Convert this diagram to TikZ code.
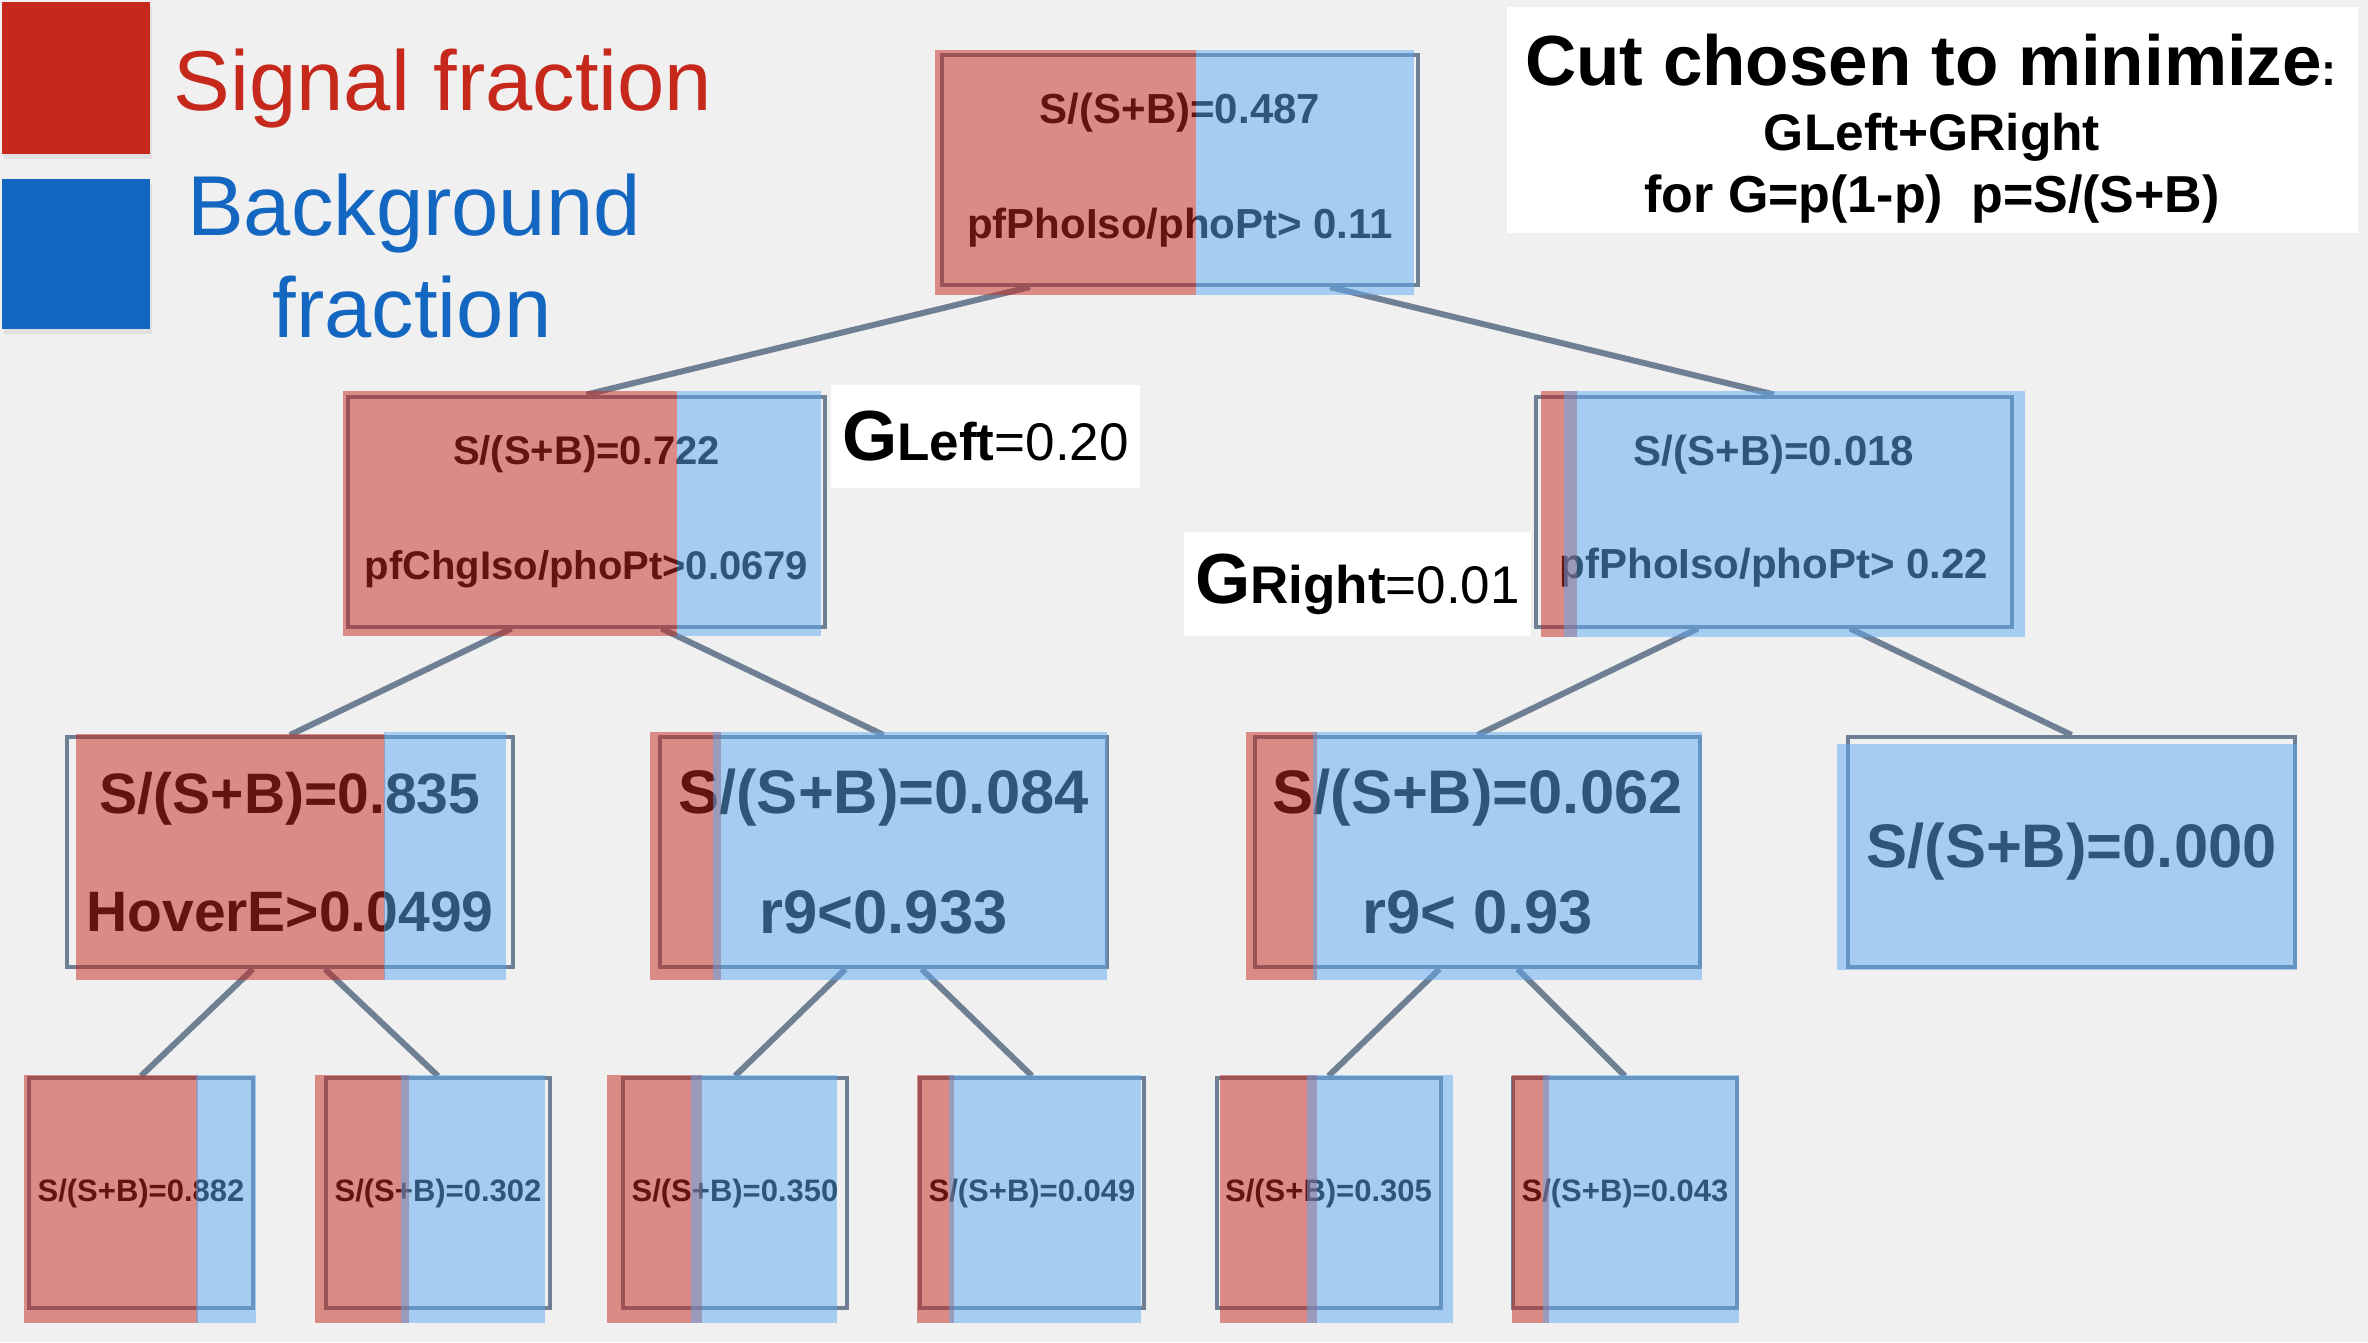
\documentclass[tikz,border=0pt]{standalone}
\usepackage{fontspec}
\setmainfont{Liberation Sans}

\definecolor{slate}{RGB}{112,128,148}
\definecolor{sigred}{RGB}{198,40,28}
\definecolor{bkgblue}{RGB}{20,103,192}
\definecolor{bkglight}{RGB}{94,170,242}
\definecolor{paper}{RGB}{240,240,240}

\newcommand{\ginilabel}[2]{{\fontsize{71}{71}\selectfont\bfseries G}{\fontsize{53}{53}\selectfont\bfseries #1}{\fontsize{53}{53}\selectfont =#2}}

\tikzset{
  treebox/.style={draw=slate, line width=4pt, minimum height=230pt, inner sep=0pt, align=center},
  branch/.style={draw=slate, line width=6pt},
  sigpart/.style={fill=sigred, fill opacity=0.5},
  bkgpart/.style={fill=bkglight, fill opacity=0.5},
  gbox/.style={fill=white, inner sep=0pt},
}

\begin{document}
\begin{tikzpicture}[x=1pt,y=-1pt]
  \fill[paper] (0,0) rectangle (2368,1342);
  \useasboundingbox (0,0) rectangle (2368,1342);

  % legend
  \fill[black!12] (4,7) rectangle (152,159);
  \fill[sigred] (2,2) rectangle (150,154);
  \node[anchor=base, text=sigred, font=\fontsize{85}{85}\selectfont] (sig) at (443,110) {Signal fraction};
  \fill[black!12] (4,184) rectangle (152,334);
  \fill[bkgblue] (2,179) rectangle (150,329);
  \node[anchor=base, text=bkgblue, font=\fontsize{85}{85}\selectfont] (bkg) at (414,235) {Background};
  \node[anchor=base, text=bkgblue, font=\fontsize{85}{85}\selectfont] (bkgfrac) at (412,337) {fraction};

  % what the cut minimizes
  \node[gbox, minimum width=851pt, minimum height=226pt] (cutbox) at (1932.5,120) {};
  \node[anchor=base, font=\fontsize{71}{71}\selectfont\bfseries] (cut1) at (1931,85) {Cut chosen to minimize{\fontsize{45}{45}\selectfont:}};
  \node[anchor=base, font=\fontsize{51.5}{52}\selectfont\bfseries] (cut2) at (1932,150) {GLeft+GRight};
  \node[anchor=base, font=\fontsize{52}{52}\selectfont\bfseries] (cut3) at (1932,212) {for G=p(1-p)\hspace{28pt}p=S/(S+B)};

  \node[gbox, minimum width=309pt, minimum height=103pt] (gleft) at (985.5,436.5) {\ginilabel{Left}{0.20}};
  \node[gbox, minimum width=347pt, minimum height=104pt] (gright) at (1357.5,584) {\ginilabel{Right}{0.01}};

  % tree
  \node[treebox, minimum width=476pt, font=\fontsize{42}{115}\selectfont\bfseries] (root) at (1180,170) {S/(S+B)=0.487\\pfPhoIso/phoPt> 0.11};
  \node[treebox, minimum width=477pt, font=\fontsize{40}{115}\selectfont\bfseries] (nl) at (586.5,511.5) {S/(S+B)=0.722\\pfChgIso/phoPt>0.0679};
  \node[treebox, minimum width=476pt, font=\fontsize{42}{113}\selectfont\bfseries] (nr) at (1774,511.5) {S/(S+B)=0.018\\pfPhoIso/phoPt> 0.22};
  \node[treebox, minimum width=446pt, font=\fontsize{57}{118}\selectfont\bfseries] (nll) at (290,852) {S/(S+B)=0.835\\HoverE>0.0499};
  \node[treebox, minimum width=447pt, font=\fontsize{61.5}{120}\selectfont\bfseries] (nlr) at (883.5,852) {S/(S+B)=0.084\\r9<0.933};
  \node[treebox, minimum width=445pt, font=\fontsize{61.5}{120}\selectfont\bfseries] (nrl) at (1477.5,852) {S/(S+B)=0.062\\r9< 0.93};
  \node[treebox, minimum width=447pt, font=\fontsize{61.5}{70}\selectfont\bfseries] (nrr) at (2071.5,852) {S/(S+B)=0.000};
  \foreach \n/\x/\v in {1/141/0.882, 2/438/0.302, 3/735/0.350, 4/1032/0.049, 5/1328.5/0.305, 6/1625/0.043}
    \node[treebox, minimum width=224pt, font=\fontsize{31}{36}\selectfont\bfseries] (leaf\n) at (\x,1193) {S/(S+B)=\v};

  \draw[branch] ([xshift=-150pt]root.south) -- (nl.north);
  \draw[branch] ([xshift=150pt]root.south) -- (nr.north);
  \draw[branch] ([xshift=-75pt]nl.south) -- (nll.north);
  \draw[branch] ([xshift=75pt]nl.south) -- (nlr.north);
  \draw[branch] ([xshift=-76pt]nr.south) -- (nrl.north);
  \draw[branch] ([xshift=76pt]nr.south) -- (nrr.north);
  \draw[branch] ([xshift=-37pt]nll.south) -- (leaf1.north);
  \draw[branch] ([xshift=35pt]nll.south) -- (leaf2.north);
  \draw[branch] ([xshift=-38pt]nlr.south) -- (leaf3.north);
  \draw[branch] ([xshift=38pt]nlr.south) -- (leaf4.north);
  \draw[branch] ([xshift=-38pt]nrl.south) -- (leaf5.north);
  \draw[branch] ([xshift=40pt]nrl.south) -- (leaf6.north);

  % signal / background fractions laid over the boxes
  \fill[sigpart] (935,50) rectangle (1196,295);
  \fill[bkgpart] (1196,50) rectangle (1414,295);
  \fill[sigpart] (343,391) rectangle (677,636);
  \fill[bkgpart] (677,391) rectangle (821,636);
  \fill[sigpart] (1541,391) rectangle (1577,637);
  \fill[bkgpart] (1564,391) rectangle (2025,637);
  \fill[sigpart] (76,734) rectangle (385,980);
  \fill[bkgpart] (384,732) rectangle (506,980);
  \fill[sigpart] (650,732) rectangle (721,980);
  \fill[bkgpart] (713,732) rectangle (1107,980);
  \fill[sigpart] (1246,732) rectangle (1317,980);
  \fill[bkgpart] (1313,732) rectangle (1702,980);
  \fill[bkgpart] (1837,744) rectangle (2297,970);
  \foreach \rl/\rr/\bl/\br in {24/198/196/256, 315/409/401/545, 607/702/691/837, 917/954/949/1141, 1220/1317/1307/1453, 1512/1549/1543/1739}{
    \fill[sigpart] (\rl,1075) rectangle (\rr,1323);
    \fill[bkgpart] (\bl,1075) rectangle (\br,1323);
  }
\end{tikzpicture}
\end{document}
